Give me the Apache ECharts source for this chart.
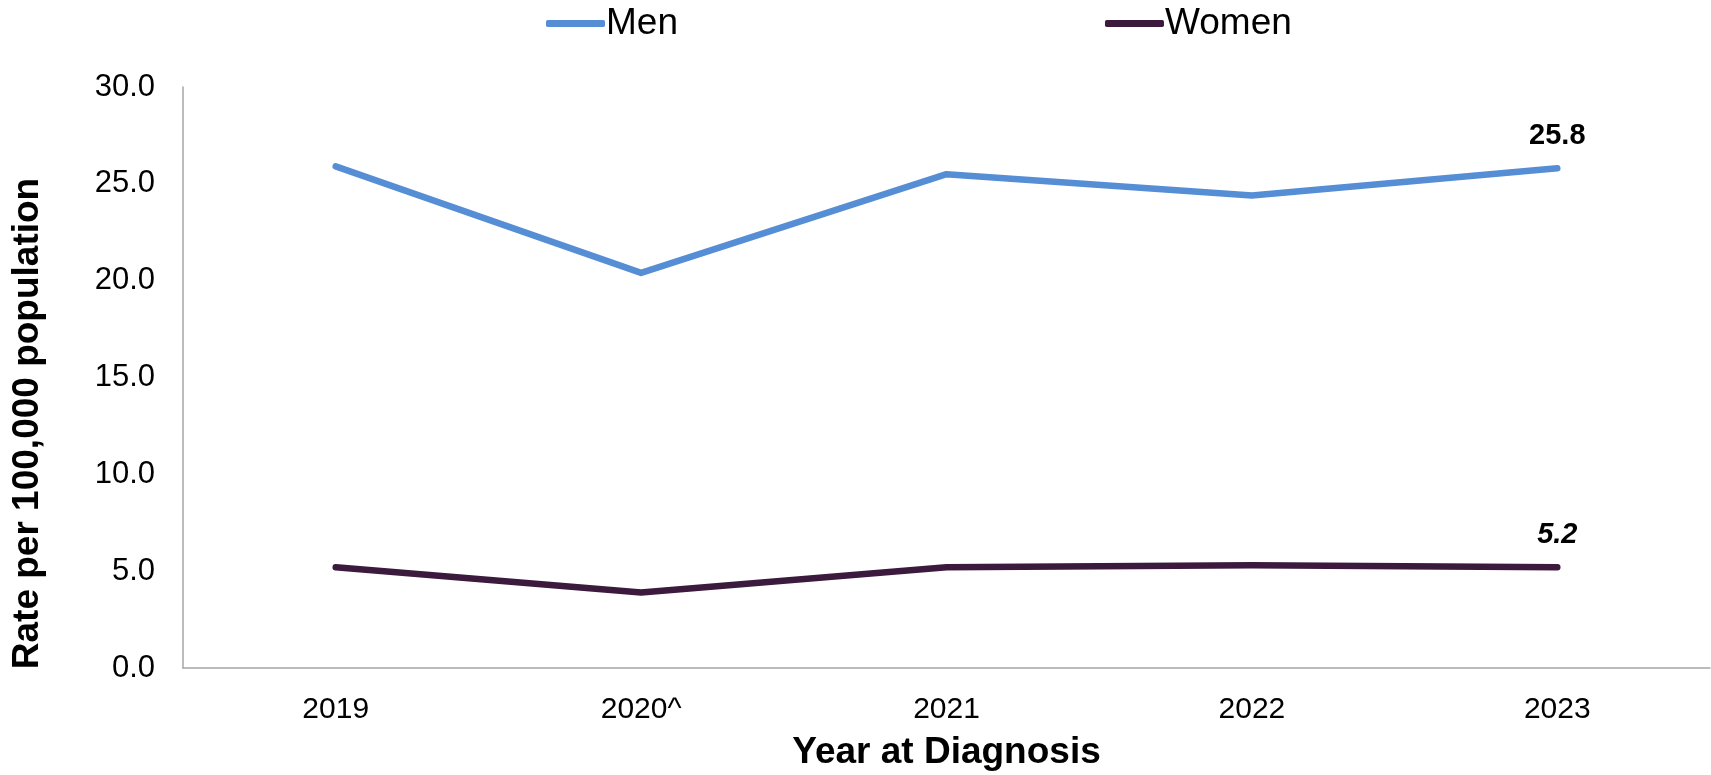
<!DOCTYPE html>
<html>
<head>
<meta charset="utf-8">
<style>
html,body{margin:0;padding:0;background:#fff;}
#chart{width:1711px;height:775px;}
</style>
<script src="https://cdn.jsdelivr.net/npm/echarts@6/dist/echarts.min.js"></script>
</head>
<body>
<div id="chart"></div>
<script>
const categories = ['2019', '2020^', '2021', '2022', '2023'];
const men = [25.9, 20.4, 25.5, 24.4, 25.8];
const women = [5.2, 3.9, 5.2, 5.3, 5.2];
const yTicks = [0, 5, 10, 15, 20, 25, 30];

const FONT = '"Liberation Sans", Arial, sans-serif';
const chart = echarts.init(document.getElementById('chart'));

function lastLabel(italic) {
  return {
    show: true,
    position: 'top',
    distance: 17,
    fontFamily: FONT,
    fontSize: 29,
    fontWeight: 'bold',
    fontStyle: italic ? 'italic' : 'normal',
    color: '#000',
    formatter: function (p) {
      return p.dataIndex === categories.length - 1 ? p.value.toFixed(1) : '';
    }
  };
}

chart.setOption({
  animation: false,
  backgroundColor: '#fff',
  legend: {
    top: 5,
    left: 546,
    padding: 0,
    itemWidth: 59,
    itemHeight: 7,
    itemGap: 427,
    icon: 'roundRect',
    textStyle: { fontFamily: FONT, fontSize: 37, color: '#000', padding: [0, 0, 0, -4] },
    data: ['Men', 'Women']
  },
  grid: { left: 183, right: 1, top: 87, bottom: 107, containLabel: false, outerBoundsMode: 'none' },
  xAxis: {
    type: 'category',
    data: categories,
    boundaryGap: true,
    name: 'Year at Diagnosis',
    nameLocation: 'middle',
    nameGap: 66,
    nameTextStyle: { fontFamily: FONT, fontSize: 37, fontWeight: 'bold', color: '#000' },
    axisLine: { show: true, lineStyle: { color: '#A6A6A6', width: 1.5 } },
    axisTick: { show: false },
    axisLabel: { fontFamily: FONT, fontSize: 30, color: '#000', margin: 27 }
  },
  yAxis: {
    type: 'value',
    min: yTicks[0],
    max: yTicks[yTicks.length - 1],
    interval: yTicks[1] - yTicks[0],
    name: 'Rate per 100,000 population',
    nameLocation: 'middle',
    nameGap: 137,
    nameTextStyle: { fontFamily: FONT, fontSize: 37, fontWeight: 'bold', color: '#000', padding: [0, 92, 0, 0] },
    axisLine: { show: true, lineStyle: { color: '#A6A6A6', width: 1.5 } },
    axisTick: { show: false },
    splitLine: { show: false },
    axisLabel: {
      fontFamily: FONT, fontSize: 31, color: '#000', margin: 28,
      formatter: function (v) { return v.toFixed(1); }
    }
  },
  series: [
    {
      name: 'Men',
      type: 'line',
      data: men,
      symbol: 'circle',
      symbolSize: 2,
      showSymbol: true,
      color: '#558ED5',
      itemStyle: { color: '#558ED5' },
      lineStyle: { width: 6.5, color: '#558ED5', cap: 'round', join: 'round' },
      label: lastLabel(false)
    },
    {
      name: 'Women',
      type: 'line',
      data: women,
      symbol: 'circle',
      symbolSize: 2,
      showSymbol: true,
      color: '#3B1A3E',
      itemStyle: { color: '#3B1A3E' },
      lineStyle: { width: 6.5, color: '#3B1A3E', cap: 'round', join: 'round' },
      label: lastLabel(true)
    }
  ]
});
</script>
</body>
</html>
